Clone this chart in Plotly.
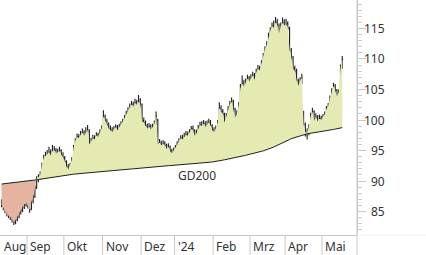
import pandas as pd
import plotly.graph_objects as go

# ---------------- data ----------------
holidays = ["2023-12-25", "2023-12-26", "2024-01-01", "2024-03-29", "2024-04-01", "2024-05-01"]
dates = [d for d in pd.bdate_range("2023-08-11", "2024-05-17") if d.strftime("%Y-%m-%d") not in holidays]

month_labels = ["Aug", "Sep", "Okt", "Nov", "Dez", "'24", "Feb", "Mrz", "Apr", "Mai"]
y_ticks = [85, 90, 95, 100, 105, 110, 115]
ma_label = "GD200"

closes = [
    86.1, 85.6, 85.0, 84.6, 84.3, 84.1, 83.7, 83.3, 83.6, 84.2, 84.8, 85.2, 85.8, 86.2, 86.4,
    86.0, 85.3, 86.6, 87.4, 88.9, 90.4, 90.6, 91.0, 92.6, 93.8, 94.1, 94.4, 94.7, 94.2, 94.9, 95.1, 94.5, 94.7, 94.9, 94.3, 93.9,
    93.2, 92.3, 91.9, 92.6, 93.4, 95.5, 96.6, 97.2, 97.0, 97.6, 97.9, 97.4, 98.0, 98.4, 96.0, 96.5, 97.0, 96.8, 97.5, 97.2, 98.1, 98.6,
    100.6, 99.9, 99.2, 98.6, 98.3, 98.0, 98.5, 98.8, 98.3, 98.9, 99.3, 99.7, 100.3, 101.0, 101.6, 102.1, 102.5, 102.2, 102.8, 102.5, 103.0, 102.6,
    99.8, 99.6, 99.0, 98.6, 98.9, 98.5, 98.8, 99.4, 100.6, 96.0, 96.3, 95.8, 96.1, 95.8, 95.3, 95.6, 94.9, 94.5, 95.0,
    95.4, 95.9, 96.5, 97.0, 96.8, 97.3, 97.6, 97.4, 98.0, 98.5, 98.3, 97.4, 97.8, 98.7, 99.2, 99.0, 99.4, 98.9, 99.3, 99.6, 99.1, 98.3,
    98.0, 98.6, 99.5, 102.0, 101.3, 101.0, 99.6, 100.6, 101.8, 102.6, 103.0, 101.8, 100.4, 100.9, 102.4, 105.2, 106.0, 105.5, 106.2, 106.8, 106.3,
    106.9, 107.3, 106.6, 107.8, 108.4, 108.1, 109.3, 110.6, 111.6, 112.3, 113.7, 114.6, 115.4, 115.1, 116.0, 115.6, 114.2, 115.4, 115.9, 115.5,
    115.7, 115.2, 111.5, 110.3, 108.4, 108.0, 106.5, 105.6, 106.4, 106.9, 99.3, 98.0, 97.9, 98.8, 100.6, 101.4, 99.9, 100.5, 99.8, 100.2, 100.0,
    100.4, 100.9, 101.8, 102.3, 103.5, 104.6, 105.6, 104.8, 103.9, 104.5, 108.6, 109.9,
]
opens = [
    86.6, 86.0, 85.5, 85.1, 84.5, 84.4, 84.0, 83.6, 83.2, 83.7, 84.1, 84.9, 85.1, 85.7, 86.1,
    86.5, 85.9, 85.4, 86.7, 87.5, 89.0, 90.3, 90.5, 91.1, 92.7, 93.7, 94.0, 94.3, 94.8, 94.1, 94.8, 95.0, 94.4, 94.6, 95.0, 94.2,
    93.8, 93.1, 92.4, 91.8, 92.5, 93.5, 95.6, 96.5, 97.3, 96.9, 97.5, 98.0, 97.3, 98.1, 98.2, 96.1, 96.4, 97.1, 96.7, 97.6, 97.3, 98.0,
    98.7, 100.5, 99.8, 99.3, 98.7, 98.4, 97.9, 98.4, 98.9, 98.2, 98.8, 99.2, 99.6, 100.4, 100.9, 101.5, 102.2, 102.6, 102.1, 102.9, 102.4, 103.1,
    102.5, 99.9, 99.5, 99.1, 98.5, 99.0, 98.4, 98.9, 99.5, 100.0, 96.1, 96.2, 95.7, 96.2, 95.9, 95.2, 95.5, 94.9, 94.6,
    94.9, 95.3, 95.8, 96.4, 97.1, 96.7, 97.2, 97.7, 97.3, 97.9, 98.6, 98.2, 97.3, 97.9, 98.6, 99.3, 98.9, 99.5, 98.8, 99.2, 99.7, 99.0,
    98.4, 97.9, 98.7, 99.6, 101.9, 101.4, 100.9, 99.7, 100.5, 101.9, 102.5, 103.1, 101.7, 100.3, 101.0, 102.5, 105.3, 106.1, 105.4, 106.1, 106.9,
    106.2, 106.8, 107.4, 106.7, 107.9, 108.5, 108.0, 109.4, 110.5, 111.7, 112.4, 113.8, 114.5, 115.5, 115.0, 116.1, 115.5, 114.3, 115.3, 116.0,
    115.4, 115.8, 115.0, 111.4, 110.2, 108.5, 108.1, 106.4, 105.5, 106.3, 101.0, 99.2, 97.9, 97.8, 98.9, 100.5, 101.3, 99.8, 100.4, 99.7, 100.3,
    99.9, 100.3, 100.8, 101.7, 102.4, 103.4, 104.5, 105.5, 104.9, 103.8, 104.6, 108.7,
]
highs = [
    87.0, 86.4, 85.8, 85.4, 85.0, 84.8, 84.3, 84.0, 84.2, 84.7, 85.3, 85.8, 86.3, 86.8, 87.0,
    86.9, 86.2, 87.0, 87.9, 89.3, 90.8, 91.1, 91.6, 93.0, 94.3, 94.8, 95.1, 95.6, 95.2, 95.9, 95.7, 95.4, 95.3, 95.6, 95.2, 94.7,
    94.1, 93.4, 92.8, 93.0, 93.9, 95.9, 97.0, 97.8, 97.7, 98.2, 98.6, 98.3, 98.8, 99.2, 98.5, 97.1, 97.6, 97.5, 98.0, 97.9, 98.5, 99.1,
    101.6, 100.9, 100.2, 99.6, 99.1, 98.8, 99.0, 99.3, 99.2, 99.4, 99.8, 100.2, 100.8, 101.5, 102.1, 102.7, 103.1, 103.0, 103.5, 103.3, 104.1, 103.6,
    102.7, 100.4, 99.9, 99.4, 99.5, 99.3, 99.4, 99.9, 101.4, 100.2, 96.9, 96.6, 96.7, 96.5, 96.1, 96.2, 95.8, 95.3, 95.5,
    95.9, 96.5, 97.0, 97.5, 97.6, 97.9, 98.2, 98.1, 98.5, 99.0, 99.1, 98.5, 98.4, 99.2, 99.7, 99.8, 100.0, 99.8, 99.9, 100.2, 100.0, 99.3,
    98.8, 99.1, 100.0, 102.9, 102.4, 101.8, 101.2, 101.1, 102.3, 103.1, 103.7, 103.3, 102.0, 101.6, 102.9, 105.9, 107.3, 106.6, 106.8, 107.4, 107.2,
    107.5, 107.9, 107.7, 108.4, 109.0, 108.9, 109.8, 111.0, 112.1, 112.9, 114.3, 115.2, 116.0, 116.3, 116.9, 116.6, 115.8, 116.0, 116.8, 116.5,
    116.6, 116.2, 115.3, 111.8, 110.5, 108.9, 108.4, 106.8, 107.0, 107.6, 101.5, 99.6, 98.6, 99.3, 101.2, 102.0, 101.6, 101.1, 100.8, 100.9, 100.7,
    101.0, 101.4, 102.3, 102.8, 104.0, 105.2, 106.1, 105.9, 105.1, 105.0, 109.1, 110.5,
]
lows = [
    85.7, 85.2, 84.7, 84.2, 83.9, 83.6, 83.2, 82.8, 82.9, 83.4, 83.9, 84.5, 84.9, 85.4, 85.8,
    85.5, 84.8, 85.2, 86.3, 87.2, 88.7, 89.8, 90.2, 90.8, 92.4, 93.3, 93.6, 93.9, 93.7, 93.9, 94.3, 94.0, 93.9, 94.2, 93.8, 93.3,
    92.7, 91.9, 91.5, 91.6, 92.3, 93.3, 95.2, 96.2, 96.5, 96.6, 97.1, 96.9, 97.0, 97.7, 95.2, 95.7, 96.1, 96.3, 96.5, 96.8, 97.0, 97.7,
    98.5, 99.4, 98.8, 98.2, 97.9, 97.5, 97.6, 98.0, 97.9, 98.0, 98.5, 98.9, 99.3, 100.0, 100.6, 101.2, 101.8, 101.7, 101.9, 102.0, 102.2, 102.0,
    99.4, 99.0, 98.6, 98.1, 98.2, 98.0, 98.1, 98.6, 99.2, 95.5, 95.6, 95.3, 95.4, 95.3, 94.9, 94.9, 94.5, 94.0, 94.2,
    94.6, 95.0, 95.6, 96.1, 96.3, 96.5, 96.9, 96.9, 97.1, 97.6, 97.8, 96.9, 97.0, 97.6, 98.3, 98.5, 98.6, 98.4, 98.5, 98.9, 98.6, 97.8,
    97.5, 97.7, 98.4, 99.4, 100.8, 100.4, 99.1, 99.4, 100.3, 101.5, 102.2, 101.3, 99.9, 100.0, 100.7, 102.3, 104.9, 105.0, 105.1, 105.7, 105.8,
    105.9, 106.4, 106.1, 106.4, 107.5, 107.5, 107.8, 109.1, 110.2, 111.3, 112.1, 113.4, 114.2, 114.6, 114.8, 115.1, 113.6, 114.0, 115.0, 115.0,
    114.9, 114.7, 111.0, 109.8, 108.0, 107.4, 105.9, 104.9, 105.2, 105.9, 98.8, 97.3, 96.8, 97.5, 98.6, 100.2, 99.4, 99.5, 99.4, 99.5, 99.5,
    99.6, 100.0, 100.6, 101.4, 102.1, 103.1, 104.3, 104.3, 103.3, 103.5, 104.4, 108.4,
]
ma200 = [
    89.50, 89.53, 89.57, 89.60, 89.64, 89.67, 89.71, 89.74, 89.78, 89.81, 89.85, 89.88, 89.92, 89.95, 89.99, 90.02, 90.06, 90.09, 90.13, 90.16, 90.20,
    90.25, 90.30, 90.34, 90.39, 90.44, 90.48, 90.53, 90.58, 90.62, 90.67, 90.72, 90.76, 90.81, 90.86, 90.91, 90.95, 91.00,
    91.03, 91.06, 91.09, 91.12, 91.15, 91.18, 91.21, 91.24, 91.27, 91.30, 91.33, 91.36, 91.39, 91.42, 91.45, 91.48, 91.51, 91.54, 91.57, 91.60,
    91.62, 91.64, 91.67, 91.69, 91.71, 91.73, 91.75, 91.78, 91.80, 91.82, 91.84, 91.86, 91.89, 91.91, 91.93, 91.95, 91.98, 92.00,
    92.03, 92.06, 92.09, 92.11, 92.14, 92.17, 92.20, 92.23, 92.26, 92.29, 92.31, 92.34, 92.37, 92.40,
    92.42, 92.44, 92.46, 92.47, 92.49, 92.51, 92.53, 92.55, 92.56, 92.58, 92.60,
    92.62, 92.64, 92.66, 92.68, 92.70, 92.72, 92.74, 92.76, 92.78, 92.80,
    92.83, 92.86, 92.90, 92.93, 92.96, 92.99, 93.02, 93.06, 93.09, 93.12, 93.15,
    93.20, 93.26, 93.31, 93.37, 93.42, 93.48, 93.53, 93.59, 93.64, 93.70, 93.75,
    93.82, 93.88, 93.95, 94.02, 94.08, 94.15, 94.22, 94.28, 94.35, 94.42, 94.48, 94.55,
    94.63, 94.71, 94.79, 94.87, 94.94, 95.02, 95.10,
    95.22, 95.34, 95.46, 95.58, 95.70,
    95.83, 95.96, 96.09, 96.22, 96.35,
    96.50, 96.65, 96.80, 96.95,
    97.05, 97.15, 97.25, 97.35, 97.45, 97.55, 97.65,
    97.69, 97.73, 97.78, 97.82, 97.86, 97.90, 97.94, 97.98, 98.02, 98.07, 98.11, 98.15,
    98.21, 98.27, 98.33, 98.39, 98.45, 98.51, 98.57, 98.63, 98.69, 98.75,
]

# ---------------- styling ----------------
FONT = "Noto Sans"
TXT = "#333333"
AXC = "#c8c8c8"
GREEN = "#e5eab3"
RED = "#e4b4a0"
W, H = 426, 255
L, R, T, B = 0, 69, 0, 20
PW, PH = W - L - R, H - T - B

n = len(closes)
xs = list(range(n))
x_range = [-0.877, 202.4]
y_range = [81.15, 119.67]

fig = go.Figure()

# fill between price and GD200, split at crossings
pts = []
for i in range(n):
    if i > 0:
        d0 = closes[i - 1] - ma200[i - 1]
        d1 = closes[i] - ma200[i]
        if (d0 >= 0) != (d1 >= 0):
            t = d0 / (d0 - d1)
            yc = ma200[i - 1] + t * (ma200[i] - ma200[i - 1])
            pts.append((i - 1 + t, yc, yc, True))
    pts.append((i, closes[i], ma200[i], False))

runs, cur = [], [pts[0]]
for p in pts[1:]:
    cur.append(p)
    if p[3]:
        runs.append(cur)
        cur = [p]
runs.append(cur)

for run in runs:
    s = sum(p[1] - p[2] for p in run)
    col = GREEN if s > 0 else RED
    fx = [p[0] for p in run] + [p[0] for p in reversed(run)]
    fy = [p[1] for p in run] + [p[2] for p in reversed(run)]
    fig.add_trace(go.Scatter(x=fx, y=fy, mode="lines", fill="toself", fillcolor=col,
                             line=dict(width=0), hoverinfo="skip", showlegend=False))

fig.add_trace(go.Scatter(x=xs, y=ma200, mode="lines", line=dict(color="#1e1e1e", width=1.0),
                         hoverinfo="skip", showlegend=False))

fig.add_trace(go.Ohlc(x=xs, open=opens, high=highs, low=lows, close=closes,
                      increasing_line_color="#1e1e1e", decreasing_line_color="#1e1e1e",
                      line=dict(width=1.1), tickwidth=0.45, showlegend=False))

# month separators and labels
month_starts = [0] + [i for i in range(1, n) if dates[i].month != dates[i - 1].month]
shapes = []
annotations = []
for k, idx in enumerate(month_starts):
    if idx > 0:
        shapes.append(dict(type="line", xref="x", yref="paper", x0=idx - 0.5, x1=idx - 0.5,
                           y0=-B / PH, y1=0, line=dict(color=AXC, width=1)))
    annotations.append(dict(x=idx - 0.5, y=0, xref="x", yref="paper", text=month_labels[k],
                            showarrow=False, xanchor="left", yanchor="middle", xshift=1, yshift=-11,
                            font=dict(family=FONT, size=12, color=TXT)))

# right axis line through the bottom band, faint baseline extension
shapes.append(dict(type="line", xref="paper", yref="paper", x0=1, x1=1, y0=-B / PH, y1=1,
                   line=dict(color=AXC, width=1)))
shapes.append(dict(type="line", xref="paper", yref="paper", x0=1, x1=W / PW, y0=0, y1=0,
                   line=dict(color="#f2f2f2", width=1)))

for v in y_ticks:
    annotations.append(dict(x=387 / PW, y=v, xref="paper", yref="y", text=str(v), showarrow=False,
                            xanchor="right", yanchor="middle",
                            font=dict(family=FONT, size=12, color=TXT)))

annotations.append(dict(x=99.3, y=90.87, xref="x", yref="y", text=ma_label, showarrow=False,
                        xanchor="left", yanchor="middle", font=dict(family=FONT, size=12, color=TXT)))

fig.update_layout(
    width=W, height=H,
    margin=dict(l=L, r=R, t=T, b=B, pad=0),
    paper_bgcolor="white", plot_bgcolor="white",
    showlegend=False,
    shapes=shapes, annotations=annotations,
    xaxis=dict(range=x_range, showgrid=False, zeroline=False, showticklabels=False, ticks="",
               showline=True, linecolor=AXC, linewidth=1, rangeslider=dict(visible=False), fixedrange=True),
    yaxis=dict(range=y_range, side="right", showgrid=False, zeroline=False, showticklabels=False,
               showline=True, linecolor=AXC, linewidth=1, ticks="outside", ticklen=8, tickcolor=AXC,
               tick0=0, dtick=5,
               minor=dict(ticks="outside", ticklen=4, tickcolor=AXC, dtick=1, showgrid=False),
               fixedrange=True),
)

fig.write_html("out.html", config={"displayModeBar": False})
